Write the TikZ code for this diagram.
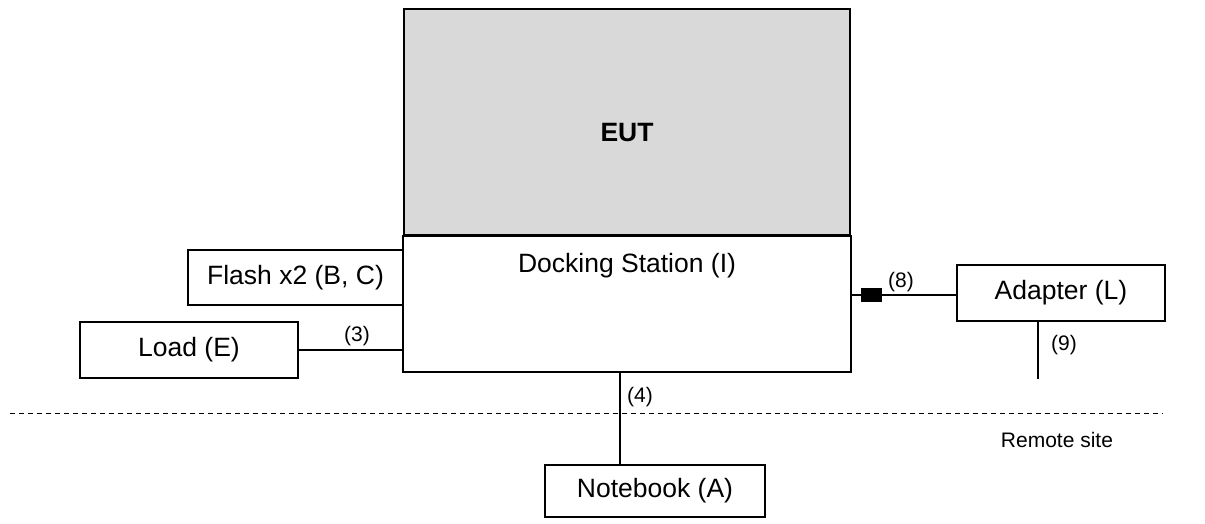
\documentclass[tikz,border=0pt]{standalone}
\usepackage{fontspec}
\setmainfont{Liberation Sans}
\usetikzlibrary{calc}

\definecolor{eutgray}{HTML}{D9D9D9}
\tikzset{
  unitbox/.style={draw, line width=1.6pt, inner sep=0pt, font=\fontsize{26.5}{31}\selectfont},
  cable/.style={line width=1.6pt},
  tag/.style={inner sep=0pt, font=\fontsize{21}{25}\selectfont}
}

\begin{document}
\begin{tikzpicture}[x=1pt, y=-1pt]
          \useasboundingbox (0, 0) rectangle (1205, 523);

          \node [unitbox, fill=eutgray, minimum width=446, minimum height=226] (eut) at (627, 122) {};
          \node [tag, font=\fontsize{26.5}{31}\selectfont\bfseries] (euttext) at (627, 133) {EUT};
          \node [unitbox, minimum width=448, minimum height=136] (dock) at (627, 304) {};
          \node [tag, font=\fontsize{26.5}{31}\selectfont] (docktext) at (627, 266) {Docking Station (I)};

          \node [unitbox, minimum width=215, minimum height=55] (flash) at (295.5, 277.5) {Flash x2 (B, C)};
          \node [unitbox, minimum width=218, minimum height=56] (load) at (189, 350) {Load (E)};
          \node [unitbox, minimum width=208, minimum height=56] (adapter) at (1061, 293) {Adapter (L)};
          \node [unitbox, minimum width=220, minimum height=52] (notebook) at (655, 491) {Notebook (A)};

          % cables
          \draw [cable] (load.east) -- (load.east -| dock.west);
          \node [tag] (l3) at (357, 336) {(3)};

          \coordinate (dockout) at (dock.east |- 0, 295);
          \draw [cable] (dockout) -- (dockout -| adapter.west);
          \node [fill=black, inner sep=0pt, minimum width=21, minimum height=14] (ferrite) at (871.5, 295) {};
          \node [tag] (l8) at (901, 282) {(8)};

          \coordinate (mains) at (1038, 379);
          \draw [cable] (mains |- adapter.south) -- (mains);
          \node [tag] (l9) at (1064, 345) {(9)};

          \coordinate (lan) at (620, 0);
          \draw [cable] (lan |- dock.south) -- (lan |- notebook.north);
          \node [tag] (l4) at (640, 397) {(4)};

          % remote site
          \draw [line width=1pt, dash pattern=on 5pt off 4pt] (10, 413) -- (1163, 413);
          \node [tag] (remote) at (1057, 440) {Remote site};
        \end{tikzpicture}
\end{document}
